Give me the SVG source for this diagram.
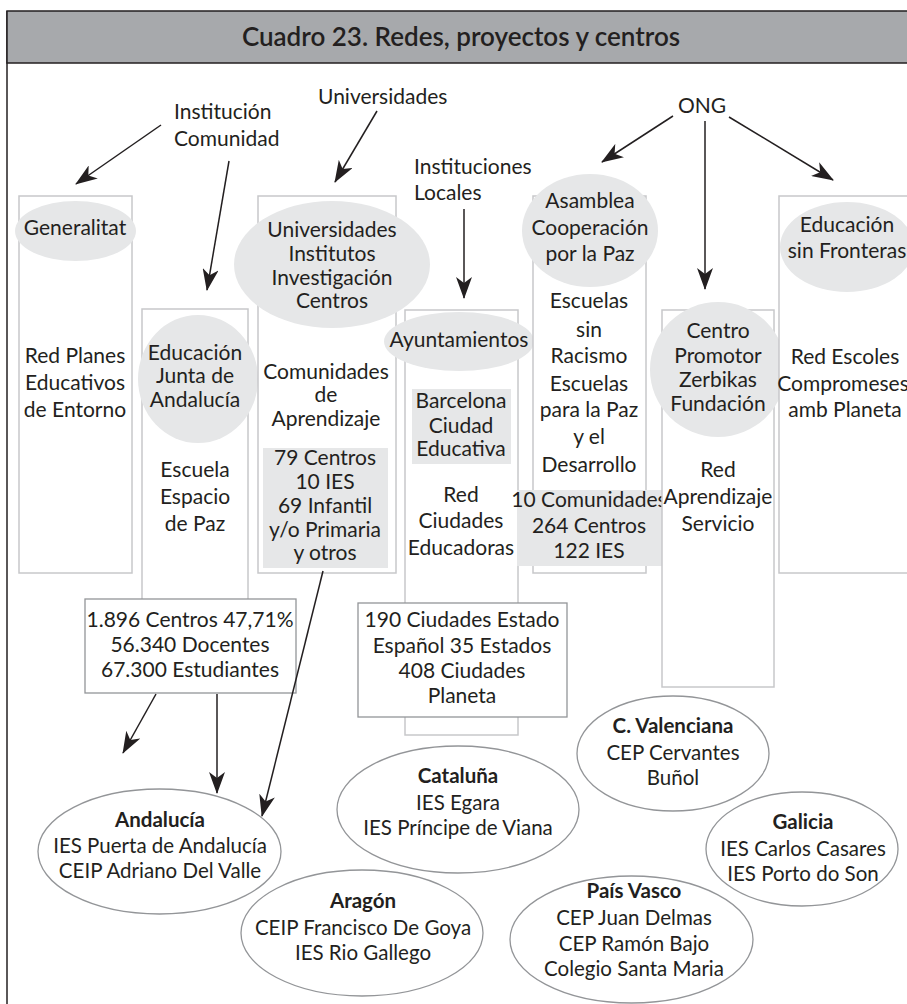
<svg xmlns="http://www.w3.org/2000/svg" width="907" height="1004" viewBox="0 0 907 1004">
<defs>
<marker id="ah" viewBox="0 0 22 16" refX="21" refY="8" markerWidth="22" markerHeight="16" orient="auto" markerUnits="userSpaceOnUse"><path d="M0,0 L22,8 L0,16 L6,8 z" fill="#231f20"/></marker>
<style>
text{font-family:Lato,"Open Sans","Liberation Sans",sans-serif;fill:#231f20;font-size:21px;text-anchor:middle}
.l{text-anchor:start}
.t{font-size:26px;font-weight:600}
.b{font-weight:bold}
.r{font-size:20.5px}
.col{fill:#fff;stroke:#c7c8ca;stroke-width:1.5}
.oval{fill:#e6e7e8}
.sbox{fill:#fff;stroke:#939598;stroke-width:1.3}
.reg{fill:none;stroke:#939598;stroke-width:1.3}
.c{fill:none;stroke:#231f20;stroke-width:1.5;marker-end:url(#ah)}
</style>
</defs>
<rect width="907" height="1004" fill="#fff"/>
<g id="frame">
<line x1="7" y1="11" x2="7" y2="1004" stroke="#231f20" stroke-width="1.5"/>
<rect x="7" y="11" width="910" height="52" fill="#a7a9ac" stroke="#231f20" stroke-width="1.5"/>
<text class="t" x="461" y="46">Cuadro 23. Redes, proyectos y centros</text>
</g>
<g id="sources">
<text class="l" x="174" y="119">Institución</text>
<text class="l" x="174" y="146">Comunidad</text>
<text class="l" x="318" y="104">Universidades</text>
<text class="l" x="414" y="174">Instituciones</text>
<text class="l" x="414" y="200">Locales</text>
<text x="702" y="113">ONG</text>
</g>
<g id="col-generalitat">
<rect class="col" x="19" y="196" width="113" height="377"/>
<ellipse class="oval" cx="75.5" cy="231" rx="60.5" ry="30"/>
<text x="75" y="235">Generalitat</text>
<text x="75" y="363">Red Planes</text>
<text x="75" y="390">Educativos</text>
<text x="75" y="417">de Entorno</text>
</g>
<g id="col-junta">
<rect class="col" x="142" y="309" width="106" height="320"/>
<ellipse class="oval" cx="198" cy="379" rx="60" ry="64"/>
<text x="195" y="360">Educación</text>
<text x="195" y="383">Junta de</text>
<text x="195" y="407">Andalucía</text>
<text x="195" y="477">Escuela</text>
<text x="195" y="504">Espacio</text>
<text x="195" y="531">de Paz</text>
</g>
<g id="col-universidades">
<rect class="col" x="258" y="196" width="138" height="377"/>
<ellipse class="oval" cx="332" cy="264.5" rx="98" ry="63.5"/>
<text x="332" y="237">Universidades</text>
<text x="332" y="261">Institutos</text>
<text x="332" y="285">Investigación</text>
<text x="332" y="308">Centros</text>
<text x="326" y="379">Comunidades</text>
<text x="326" y="402">de</text>
<text x="326" y="426">Aprendizaje</text>
<rect x="263" y="448" width="125" height="120" fill="#e6e7e8"/>
<text x="325" y="465">79 Centros</text>
<text x="325" y="489">10 IES</text>
<text x="325" y="513">69 Infantil</text>
<text x="325" y="537">y/o Primaria</text>
<text x="325" y="560">y otros</text>
</g>
<g id="col-ayuntamientos">
<rect class="col" x="405" y="310" width="113" height="425"/>
<ellipse class="oval" cx="459" cy="341.5" rx="75" ry="29.5"/>
<text x="459" y="347">Ayuntamientos</text>
<rect x="412" y="389" width="99" height="75" fill="#e6e7e8"/>
<text x="461" y="408">Barcelona</text>
<text x="461" y="433">Ciudad</text>
<text x="461" y="456">Educativa</text>
<text x="461" y="502">Red</text>
<text x="461" y="528">Ciudades</text>
<text x="461" y="555">Educadoras</text>
</g>
<g id="col-asamblea">
<rect class="col" x="533" y="196" width="113" height="377"/>
<ellipse class="oval" cx="590" cy="230.5" rx="68" ry="56.5"/>
<text x="590" y="208">Asamblea</text>
<text x="590" y="235">Cooperación</text>
<text x="590" y="261">por la Paz</text>
<text x="589" y="308">Escuelas</text>
<text x="589" y="337">sin</text>
<text x="589" y="363">Racismo</text>
<text x="589" y="391">Escuelas</text>
<text x="589" y="417">para la Paz</text>
<text x="589" y="444">y el</text>
<text x="589" y="472">Desarrollo</text>
<rect x="517" y="490" width="145" height="76" fill="#e6e7e8"/>
<text x="589" y="507" font-size="20">10 Comunidades</text>
<text x="589" y="533">264 Centros</text>
<text x="589" y="558">122 IES</text>
</g>
<g id="col-zerbikas">
<rect class="col" x="662" y="310" width="112" height="377"/>
<ellipse class="oval" cx="718" cy="369.5" rx="68" ry="67.5"/>
<text x="718" y="338">Centro</text>
<text x="718" y="363">Promotor</text>
<text x="718" y="387">Zerbikas</text>
<text x="718" y="411">Fundación</text>
<text x="718" y="477">Red</text>
<text x="718" y="504">Aprendizaje</text>
<text x="718" y="531">Servicio</text>
</g>
<g id="col-fronteras">
<rect class="col" x="779" y="196" width="140" height="377"/>
<ellipse class="oval" cx="847" cy="247" rx="67" ry="45"/>
<text x="847" y="232">Educación</text>
<text x="847" y="258">sin Fronteras</text>
<text x="845" y="364">Red Escoles</text>
<text x="843" y="391" font-size="20">Compromeses</text>
<text x="845" y="417">amb Planeta</text>
</g>
<g id="stats-andalucia">
<rect class="sbox" x="85" y="599" width="211" height="94"/>
<text x="190" y="627">1.896 Centros 47,71%</text>
<text x="190" y="652">56.340 Docentes</text>
<text x="190" y="677">67.300 Estudiantes</text>
</g>
<g id="stats-ciudades">
<rect class="sbox" x="358" y="603" width="209" height="114"/>
<text x="462" y="627">190 Ciudades Estado</text>
<text x="462" y="653">Español 35 Estados</text>
<text x="462" y="678">408 Ciudades</text>
<text x="462" y="703">Planeta</text>
</g>
<g id="reg-andalucia">
<ellipse class="reg" cx="159.5" cy="851.5" rx="121.5" ry="62.5"/>
<text class="r b" x="160" y="827">Andalucía</text>
<text class="r" x="160" y="853">IES Puerta de Andalucía</text>
<text class="r" x="160" y="878">CEIP Adriano Del Valle</text>
</g>
<g id="reg-aragon">
<ellipse class="reg" cx="362" cy="933" rx="121" ry="63"/>
<text class="r b" x="363" y="908">Aragón</text>
<text class="r" x="363" y="935">CEIP Francisco De Goya</text>
<text class="r" x="363" y="960">IES Rio Gallego</text>
</g>
<g id="reg-cataluna">
<ellipse class="reg" cx="458" cy="809.5" rx="121" ry="63.5"/>
<text class="r b" x="458" y="783">Cataluña</text>
<text class="r" x="458" y="810">IES Egara</text>
<text class="r" x="458" y="835">IES Príncipe de Viana</text>
</g>
<g id="reg-valenciana">
<ellipse class="reg" cx="673" cy="753.5" rx="96" ry="57.5"/>
<text class="r b" x="673" y="733">C. Valenciana</text>
<text class="r" x="673" y="760">CEP Cervantes</text>
<text class="r" x="673" y="785">Buñol</text>
</g>
<g id="reg-galicia">
<ellipse class="reg" cx="802" cy="849" rx="96" ry="57"/>
<text class="r b" x="803" y="829">Galicia</text>
<text class="r" x="803" y="856">IES Carlos Casares</text>
<text class="r" x="803" y="881">IES Porto do Son</text>
</g>
<g id="reg-paisvasco">
<ellipse class="reg" cx="631.5" cy="939.5" rx="121.5" ry="63.5"/>
<text class="r b" x="634" y="898">País Vasco</text>
<text class="r" x="634" y="925">CEP Juan Delmas</text>
<text class="r" x="634" y="951">CEP Ramón Bajo</text>
<text class="r" x="634" y="976">Colegio Santa Maria</text>
</g>
<g id="connectors">
<line class="c" x1="161" y1="125" x2="76" y2="184"/>
<line class="c" x1="229" y1="161" x2="207" y2="290"/>
<line class="c" x1="377" y1="111" x2="335" y2="182"/>
<line class="c" x1="464" y1="209" x2="464" y2="298"/>
<line class="c" x1="673" y1="116" x2="602" y2="162"/>
<line class="c" x1="705" y1="121" x2="705" y2="289"/>
<line class="c" x1="729" y1="117" x2="833" y2="180"/>
<line class="c" x1="156" y1="694" x2="123" y2="753"/>
<line class="c" x1="217" y1="694" x2="217" y2="793"/>
<line class="c" x1="323" y1="571" x2="262" y2="816"/>
</g>
</svg>
